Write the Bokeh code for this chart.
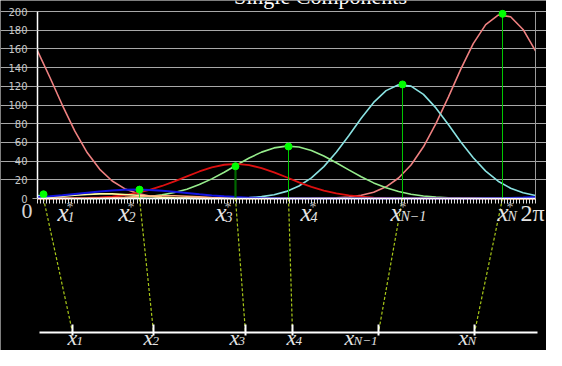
import numpy as np
from bokeh.plotting import figure
from bokeh.models import LinearAxis, FixedTicker, Range1d, CustomJSTickFormatter, Grid
from bokeh.core.properties import value
from bokeh.embed import file_html
from bokeh.resources import INLINE

TWO_PI = 2 * np.pi

# ---------------- data ----------------
x_grid = np.linspace(0, TWO_PI, 41)

pink = [157.9, 129.4, 99.7, 72.0, 48.9, 31.2, 18.7, 10.5, 5.5, 2.7, 1.3, 0.6, 0.2, 0.1,
        0, 0, 0, 0, 0, 0, 0, 0,
        0.1, 0.3, 0.7, 1.6, 3.4, 6.7, 12.5, 21.9, 35.9, 55.3, 80.0, 108.5, 138.4, 165.6,
        186.0, 196.2, 194.4, 180.8, 157.9]
cyan = [3.2, 1.6, 0.7, 0.3, 0.1,
        0, 0, 0, 0, 0, 0, 0, 0, 0,
        0.1, 0.2, 0.4, 1.0, 2.0, 4.1, 7.6, 13.4, 22.0, 34.1, 49.4, 67.2, 85.8, 102.8, 115.4,
        121.6, 120.2, 111.4, 96.9, 79.1, 60.5, 43.5, 29.3, 18.5, 11.0, 6.1, 3.2]
green = [0, 0, 0, 0, 0,
         0.1, 0.3, 0.6, 1.2, 2.2, 3.9, 6.4, 10.0, 14.9, 21.0, 28.1, 35.8, 43.3, 49.6, 54.1,
         56.0, 55.0, 51.3, 45.5, 38.3, 30.6, 23.2, 16.7, 11.4, 7.4, 4.6, 2.7, 1.5, 0.8, 0.4,
         0.2, 0.1, 0, 0, 0, 0]
red = [0, 0, 0,
       0.3, 0.6, 1.1, 2.1, 3.6, 6.0, 9.2, 13.4, 18.3, 23.7, 28.9, 33.3, 36.1, 37.0, 35.7,
       32.5, 28.0, 22.7, 17.3, 12.5, 8.5, 5.4, 3.3, 1.9, 1.0, 0.5, 0.2, 0.1,
       0, 0, 0, 0, 0, 0, 0, 0, 0, 0]
blue = [1.7, 2.5, 3.6, 4.9, 6.2, 7.5, 8.6, 9.3, 9.5, 9.2, 8.4, 7.2, 5.9, 4.5, 3.3, 2.3,
        1.5, 0.9, 0.5, 0.3, 0.1,
        0, 0, 0, 0, 0, 0, 0, 0, 0, 0, 0, 0, 0, 0, 0,
        0.2, 0.3, 0.6, 1.0, 1.7]
yellow = [0.8, 1.5, 2.4, 3.4, 4.4, 4.9, 4.9, 4.3, 3.4, 2.3, 1.4, 0.7, 0.4, 0.1,
          0, 0, 0, 0, 0, 0, 0, 0, 0, 0, 0, 0, 0, 0, 0, 0, 0, 0, 0, 0, 0, 0, 0, 0, 0, 0, 0]
orange = [0, 0, 0, 0,
          0.1, 0.3, 0.7, 1.3, 2.0, 2.6, 3.0, 2.9, 2.4, 1.7, 1.0, 0.5, 0.2,
          0, 0, 0, 0, 0, 0, 0, 0, 0, 0, 0, 0, 0, 0, 0, 0, 0, 0, 0, 0, 0, 0, 0, 0]

x_star = [0.076, 1.287, 2.498, 3.167, 4.605, 5.867]
y_star = [4.5, 9.5, 34.5, 55.6, 122.0, 197.5]
x_lower = [0.442, 1.464, 2.624, 3.217, 4.302, 5.514]
sub_labels = ["1", "2", "3", "4", "N\u22121", "N"]
y_ticks = [0, 20, 40, 60, 80, 100, 120, 140, 160, 180, 200]
title_text = "Single Components"

# ---------------- layout helpers (canvas pixel -> data) ----------------
SX = 498 / TWO_PI
SY = 187 / 200


def X(px):
    return (px - 37) / SX


def Y(py):
    return (198 - py) / SY


def TY(py):
    # text anchor for a wanted baseline (the svg text sits ~8px lower than its anchor)
    return Y(py - 8)


W, H = 546, 350
p = figure(width=W, height=H, x_range=Range1d(X(0), X(W)), y_range=Range1d(Y(H), Y(0)),
           output_backend="svg", toolbar_location=None, x_axis_type=None, y_axis_type=None,
           min_border=0, background_fill_color="black", border_fill_color="black",
           outline_line_color=None)

# horizontal grid lines
grid = Grid(dimension=1, ticker=FixedTicker(ticks=y_ticks[1:]), bounds=(0, TWO_PI),
            grid_line_color="#a8a8a8", grid_line_width=1)
p.add_layout(grid)

# left value axis
yax = LinearAxis(fixed_location=0, bounds=(0, 200), ticker=FixedTicker(ticks=y_ticks),
                 axis_line_color="white", axis_line_width=1.5,
                 major_tick_line_color="#a0a0a0", major_tick_out=5, major_tick_in=0,
                 minor_tick_line_color=None,
                 major_label_text_color="#c8c8c8", major_label_text_font="DejaVu Sans",
                 major_label_text_font_size="10px", major_label_standoff=5)
p.add_layout(yax, "left")

# right border of the chart
rax = LinearAxis(fixed_location=TWO_PI, bounds=(0, 200), ticker=FixedTicker(ticks=[]),
                 axis_line_color="#9a9a9a", axis_line_width=1,
                 major_tick_line_color=None, minor_tick_line_color=None,
                 formatter=CustomJSTickFormatter(code="return ''"))
p.add_layout(rax, "right")

# curves
p.line(x_grid, pink, line_color="#ee8080", line_width=1.6)
p.line(x_grid, cyan, line_color="#8ae2e2", line_width=1.6)
p.line(x_grid, green, line_color="#96ec8c", line_width=1.6)
p.line(x_grid, red, line_color="#dd1010", line_width=1.8)
p.line(x_grid, yellow, line_color="#ffffa0", line_width=1.6)
p.line(x_grid, orange, line_color="#ffa878", line_width=1.6)
p.line(x_grid, blue, line_color="#1414e0", line_width=2)

# vertical component markers
vcol = ["#00c000", "#30d030", "#006800", "#00c800", "#00c800", "#00c800"]
vw = [1, 1, 2.2, 1, 1, 1]
p.segment(x0=x_star, y0=[0] * 6, x1=x_star, y1=y_star, line_color=vcol, line_width=vw)

# dashed connectors to the lower number line
lower_y = Y(332)
p.segment(x0=x_star, y0=[0] * 6, x1=x_lower, y1=[lower_y] * 6,
          line_color="#a8c818", line_width=1.2, line_dash="3 2")

p.scatter(x_star, y_star, size=7, color="#00ff00")

# bottom axis with many small ticks
xax = LinearAxis(fixed_location=0, bounds=(0, TWO_PI),
                 ticker=FixedTicker(ticks=list(np.linspace(0, TWO_PI, 161))),
                 axis_line_color="white", axis_line_width=1.5,
                 major_tick_line_color="#e0e0e0", major_tick_out=5, major_tick_in=0,
                 minor_tick_line_color=None,
                 formatter=CustomJSTickFormatter(code="return ''"))
p.add_layout(xax, "below")

# lower number line
lax = LinearAxis(fixed_location=lower_y, bounds=(X(39), X(537)),
                 ticker=FixedTicker(ticks=x_lower),
                 axis_line_color="white", axis_line_width=2,
                 major_tick_line_color="white", major_tick_line_width=2,
                 major_tick_in=8, major_tick_out=3, minor_tick_line_color=None,
                 formatter=CustomJSTickFormatter(code="return ''"))
p.add_layout(lax, "below")

serif = value("Liberation Serif")
txt = "#e4e4e4"

# title (cropped at the top, as in the reference)
p.text(x=[X(320)], y=[TY(4)], text=[title_text], text_font=serif, text_font_size="22px",
       text_color="white", text_align="center", text_baseline="alphabetic")

# 0 and 2π
p.text(x=[X(21)], y=[TY(218)], text=["0"], text_font=serif, text_font_size="22px",
       text_color="#d4d4d4", text_baseline="alphabetic")
p.text(x=[X(520)], y=[TY(220)], text=["2\u03c0"], text_font=serif, text_font_size="24px",
       text_color="#e4e4e4", text_baseline="alphabetic")

# upper labels x_i^*
ux = [57, 118, 215, 300, 390, 497]
p.text(x=[X(v) for v in ux], y=[TY(220)] * 6, text=["x"] * 6, text_font=serif,
       text_font_style="italic", text_font_size="25px", text_color=txt,
       text_baseline="alphabetic")
p.text(x=[X(v + 10) for v in ux], y=[TY(224)] * 6, text=sub_labels, text_font=serif,
       text_font_style="italic", text_font_size="14px", text_color=txt,
       text_baseline="alphabetic")
p.text(x=[X(v + 9) for v in ux], y=[TY(215)] * 6, text=["*"] * 6, text_font=serif,
       text_font_size="14px", text_color="#b8b8b8", text_baseline="alphabetic")

# lower labels x_i
lx = [67, 143, 229, 286, 344, 458]
p.text(x=[X(v) for v in lx], y=[TY(345)] * 6, text=["x"] * 6, text_font=serif,
       text_font_style="italic", text_font_size="22px", text_color=txt,
       text_baseline="alphabetic")
p.text(x=[X(v + 9) for v in lx], y=[TY(348)] * 6, text=sub_labels, text_font=serif,
       text_font_style="italic", text_font_size="13px", text_color=txt,
       text_baseline="alphabetic")

open("out.html", "w").write(file_html(p, INLINE))
